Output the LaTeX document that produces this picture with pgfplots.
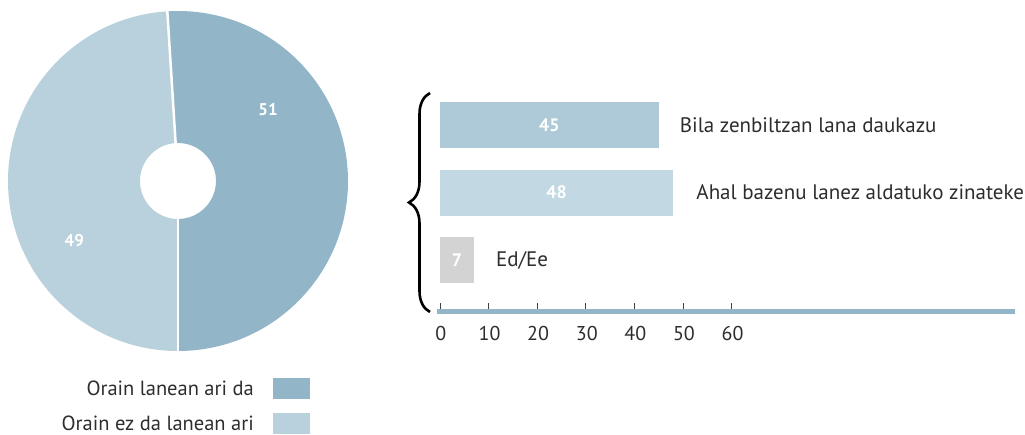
\documentclass[border=0pt]{standalone}
\usepackage{pgfplots}
\pgfplotsset{compat=1.18}
\usepackage{fontspec}
\setmainfont{PT Sans}
\usetikzlibrary{decorations.pathreplacing}
\definecolor{piedark}{RGB}{147,181,200}
\definecolor{pielight}{RGB}{185,209,221}
\definecolor{barA}{RGB}{174,202,216}
\definecolor{barB}{RGB}{194,216,226}
\definecolor{barC}{RGB}{211,211,211}
\definecolor{txt}{RGB}{45,45,45}
\begin{document}
\begin{tikzpicture}
\useasboundingbox (0,0) rectangle (1025pt,-434pt);
\def\valA{51}
\def\valB{49}
\pgfmathsetmacro{\aStart}{-90}
\pgfmathsetmacro{\aMid}{-90+3.6*\valA}
\pgfmathsetmacro{\aEnd}{\aMid+3.6*\valB}
% ---------- pie ----------
\begin{axis}[at={(178pt,-181pt)}, anchor=center, width=340pt, height=340pt,
  scale only axis, hide axis, xmin=-1, xmax=1, ymin=-1, ymax=1, clip=false]
\addplot[draw=none] coordinates {(0,0)};
\fill[piedark] ([shift={(axis cs:0,0)}]\aStart:170pt) arc[start angle=\aStart, end angle=\aMid, radius=170pt]
   -- ([shift={(axis cs:0,0)}]\aMid:38pt) arc[start angle=\aMid, end angle=\aStart, radius=38pt] -- cycle;
\fill[pielight] ([shift={(axis cs:0,0)}]\aMid:170pt) arc[start angle=\aMid, end angle=\aEnd, radius=170pt]
   -- ([shift={(axis cs:0,0)}]\aEnd:38pt) arc[start angle=\aEnd, end angle=\aMid, radius=38pt] -- cycle;
\draw[white, line width=2.5pt] ([shift={(axis cs:0,0)}]\aMid:37pt) -- ([shift={(axis cs:0,0)}]\aMid:171pt);
\draw[white, line width=2.5pt] ([shift={(axis cs:0,0)}]\aStart:37pt) -- ([shift={(axis cs:0,0)}]\aStart:171pt);
\node[white, font=\fontsize{17}{17}\selectfont\bfseries] at (axis cs:0.53,0.42) {\valA};
\node[white, font=\fontsize{17}{17}\selectfont\bfseries] at (axis cs:-0.61,-0.35) {\valB};
\end{axis}
% legend
\fill[piedark] (273pt,-378pt) rectangle (310pt,-399pt);
\fill[pielight] (273pt,-413pt) rectangle (310pt,-434pt);
\node[anchor=east, text=txt, font=\fontsize{20.5}{20.5}\selectfont, inner sep=0pt] at (254pt,-388pt) {Orain lanean ari da};
\node[anchor=east, text=txt, font=\fontsize{20.5}{20.5}\selectfont, inner sep=0pt] at (254pt,-423pt) {Orain ez da lanean ari};
% ---------- bars ----------
\begin{axis}[at={(437pt,-311pt)}, anchor=south west, width=578pt, height=218pt,
  scale only axis, xmin=-0.6, xmax=118.3, ymin=0.245, ymax=3.474,
  axis x line*=bottom, axis y line=none, clip=false,
  x axis line style={-, line width=5pt, draw=piedark},
  xtick={0,10,...,60}, xtick align=inside, major tick length=8pt,
  tick style={line width=0.8pt, draw=black!75},
  xticklabel style={text=txt, font=\fontsize{20}{20}\selectfont, yshift=-12pt, xshift=1pt},
  /pgf/number format/assume math mode=true]
\addplot[xbar, bar shift=0pt, bar width=46pt, fill=barA, draw=none] coordinates {(45,3)};
\addplot[xbar, bar shift=0pt, bar width=46pt, fill=barB, draw=none] coordinates {(48,2)};
\addplot[xbar, bar shift=0pt, bar width=46pt, fill=barC, draw=none] coordinates {(7,1)};
\node[white, font=\fontsize{18}{18}\selectfont\bfseries] at (axis cs:22.5,3) {45};
\node[white, font=\fontsize{18}{18}\selectfont\bfseries] at (axis cs:24,2) {48};
\node[white, font=\fontsize{18}{18}\selectfont\bfseries] at (axis cs:3.5,1) {7};
\node[anchor=west, inner sep=0pt, text=txt, font=\fontsize{21}{21}\selectfont, xshift=21pt] at (axis cs:45,3) {Bila zenbiltzan lana daukazu};
\node[anchor=west, inner sep=0pt, text=txt, font=\fontsize{21}{21}\selectfont, xshift=23pt] at (axis cs:48,2) {Ahal bazenu lanez aldatuko zinateke};
\node[anchor=west, inner sep=0pt, text=txt, font=\fontsize{21}{21}\selectfont, xshift=22pt] at (axis cs:7,1) {Ed/Ee};
\end{axis}
% brace
\draw[line width=2.6pt, decorate, decoration={brace, amplitude=21pt}] (430pt,-312pt) -- (430pt,-93pt);
\end{tikzpicture}
\end{document}
